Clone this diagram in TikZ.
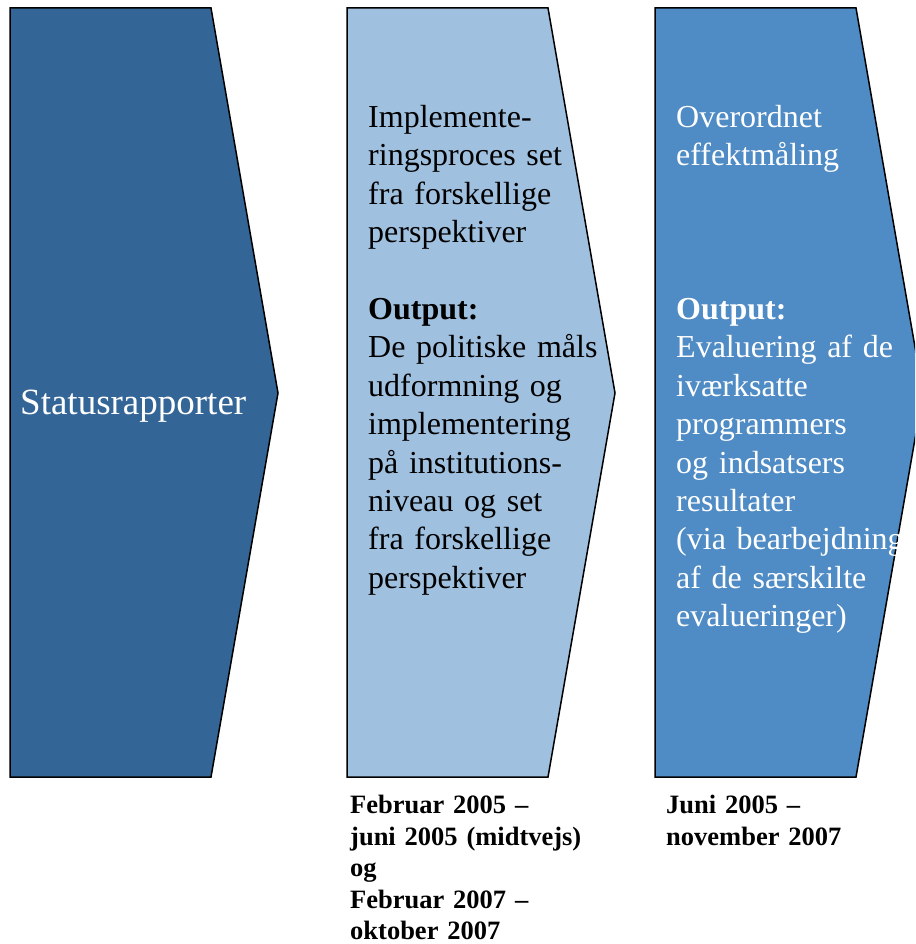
\documentclass[tikz,border=0pt]{standalone}
\usepackage{fontspec}
\setmainfont{Liberation Serif}
\usetikzlibrary{positioning}
\definecolor{chevdark}{RGB}{52,101,151}
\definecolor{chevlight}{RGB}{160,192,223}
\definecolor{chevmid}{RGB}{79,139,196}

\begin{document}
\begin{tikzpicture}
	[   x=1pt,y=-1pt,
		chev/.style={draw=black,line width=1.5pt,line join=miter,fill=#1},
		btext/.style={inner sep=0pt,anchor=north west,align=left,text width=260pt,font=\fontsize{32}{38.4}\selectfont},
	]
	\tikzset{date label/.style={inner sep=0pt,anchor=north west,align=left,text width=260pt,font=\fontsize{26.5}{31.6}\selectfont\bfseries}}
	\useasboundingbox (0,0) rectangle (915,944);
	\clip (0,0) rectangle (915,944);
	
	\foreach \x/\c in {10/chevdark,347/chevlight,655/chevmid}
	{
		\draw[chev=\c] (\x,8) -- ({\x+201},8) -- ({\x+268},393) -- ({\x+201},777) -- (\x,777) -- cycle;
	}
	
	\node[anchor=base west,inner sep=0pt,text=white,font=\fontsize{37}{44}\selectfont] (status) at (20,414) {Statusrapporter};
	
	\node[btext] (proces) at (368,105) {Implemente-\\ringsproces set\\fra forskellige\\perspektiver\\[38.4pt]\textbf{Output:}\\De politiske måls\\udformning og\\implementering\\på institutions-\\niveau og set\\fra forskellige\\perspektiver};
	
	\node[btext,text=white] (effekt) at (676,105) {Overordnet\\effektmåling\\[115.2pt]\textbf{Output:}\\Evaluering af de\\iværksatte\\programmers\\og indsatsers\\resultater\\(via bearbejdning\\af de særskilte\\evalueringer)};
	
	\node[date label] (dato-1) at (350,795) {Februar 2005 --\\juni 2005 (midtvejs)\\og\\Februar 2007 --\\oktober 2007};
	\node[date label] (dato-2) at (666,795) {Juni 2005 --\\november 2007};
\end{tikzpicture}
\end{document}
